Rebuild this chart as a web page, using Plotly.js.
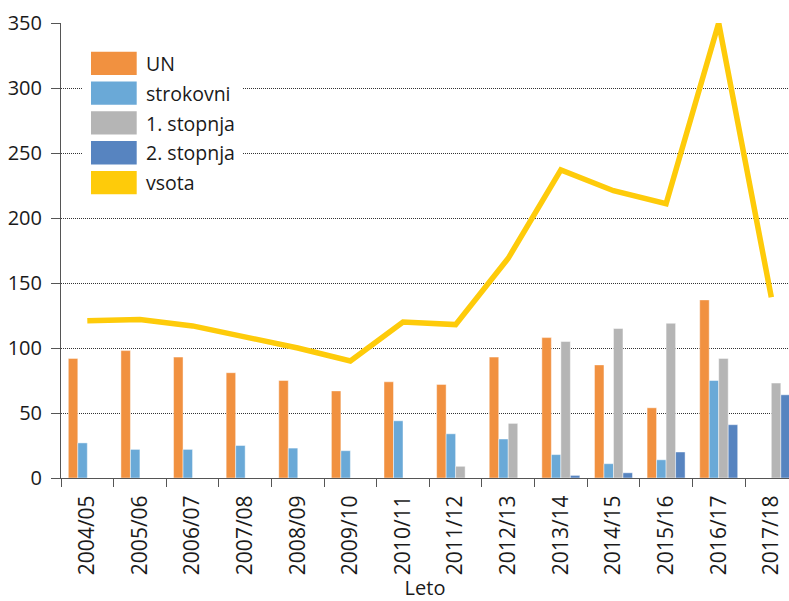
<!DOCTYPE html>
<html>
<head>
<meta charset="utf-8">
<script src="https://cdn.plot.ly/plotly-3.0.1.min.js"></script>
<style>
  html, body { margin: 0; padding: 0; background: #fff; }
  #chart { width: 789px; height: 601px; }
</style>
</head>
<body>
<div id="chart"></div>
<script>
// ---- data ----
const years = ["2004/05","2005/06","2006/07","2007/08","2008/09","2009/10","2010/11","2011/12","2012/13","2013/14","2014/15","2015/16","2016/17","2017/18"];
const un        = [92, 98, 93, 81, 75, 67, 74, 72, 93, 108, 87, 54, 137, 0];
const strokovni = [27, 22, 22, 25, 23, 21, 44, 34, 30, 18, 11, 14, 75, 0];
const stopnja1  = [0, 0, 0, 0, 0, 0, 0, 9, 42, 105, 115, 119, 92, 73];
const stopnja2  = [0, 0, 0, 0, 0, 0, 0, 0, 0, 2, 4, 20, 41, 64];
const vsota     = [121, 122, 117, 109, 100, 90, 120, 118, 169, 237, 221, 211, 350, 139];
const seriesNames = ["UN", "strokovni", "1. stopnja", "2. stopnja", "vsota"];
const yTicks = [0, 50, 100, 150, 200, 250, 300, 350];

// ---- styles ----
const colors = ["#F19140", "#6AA9D7", "#B5B5B5", "#5784C0", "#FECB0A"];
const FONT = "Open Sans, Noto Sans, sans-serif";
const W = 789, H = 601;
const M = {l: 61, r: 0, t: 23, b: 123};
const px2x = p => (p - M.l) / (W - M.l - M.r);
const px2y = p => (H - M.b - p) / (H - M.t - M.b);

const barSeries = [un, strokovni, stopnja1, stopnja2];
const traces = barSeries.map((vals, i) => ({
  type: "bar",
  x: years,
  y: vals,
  name: seriesNames[i],
  marker: {color: colors[i], line: {color: "rgba(255,255,255,0.45)", width: 1}},
  showlegend: false,
  hoverinfo: "x+y+name"
}));
traces.push({
  type: "scatter",
  mode: "lines",
  x: years,
  y: vsota,
  name: seriesNames[4],
  line: {color: colors[4], width: 5.5, shape: "linear"},
  showlegend: false
});

// custom legend (white panel, swatches, labels)
const shapes = [{
  type: "rect", xref: "paper", yref: "paper", layer: "above",
  x0: px2x(83), x1: px2x(243), y0: px2y(36), y1: px2y(204),
  fillcolor: "#ffffff", line: {width: 0}
}];
const annotations = [];
seriesNames.forEach((name, i) => {
  const top = 51.7 + i * 29.8;
  shapes.push({
    type: "rect", xref: "paper", yref: "paper", layer: "above",
    x0: px2x(91), x1: px2x(136.7), y0: px2y(top), y1: px2y(top + 23.3),
    fillcolor: colors[i], line: {width: 0}
  });
  annotations.push({
    xref: "paper", yref: "paper", x: px2x(144), y: px2y(top + 11.7),
    xanchor: "left", yanchor: "middle", showarrow: false,
    text: name, font: {family: FONT, size: 19.5, color: "#1a1a1a"}
  });
});

const layout = {
  width: W, height: H,
  margin: M,
  paper_bgcolor: "#fff", plot_bgcolor: "#fff",
  font: {family: FONT, size: 19, color: "#1a1a1a"},
  barmode: "group",
  bargap: 0.278,
  bargroupgap: 0,
  showlegend: false,
  xaxis: {
    type: "category",
    range: [-0.5, 13.336],
    tickson: "boundaries",
    ticks: "outside", ticklen: 8, tickcolor: "#555", tickwidth: 1,
    tickangle: -90,
    ticklabelstandoff: 8,
    showline: true, linecolor: "#555", linewidth: 1,
    showgrid: false, zeroline: false,
    tickfont: {family: FONT, size: 21, color: "#1a1a1a"},
    title: {text: "Leto", font: {family: FONT, size: 20, color: "#1a1a1a"}, standoff: 13}
  },
  yaxis: {
    range: [0, 350],
    tickvals: yTicks,
    ticktext: yTicks.map(String),
    ticks: "outside", ticklen: 9, tickcolor: "#555", tickwidth: 1,
    ticklabelstandoff: 5,
    showline: true, linecolor: "#555", linewidth: 1,
    showgrid: true, gridcolor: "#333", gridwidth: 1, griddash: "1px,1px",
    zeroline: false,
    tickfont: {family: FONT, size: 20, color: "#1a1a1a"}
  },
  shapes: shapes,
  annotations: annotations
};

Plotly.newPlot("chart", traces, layout, {displayModeBar: false, staticPlot: true});
</script>
</body>
</html>
